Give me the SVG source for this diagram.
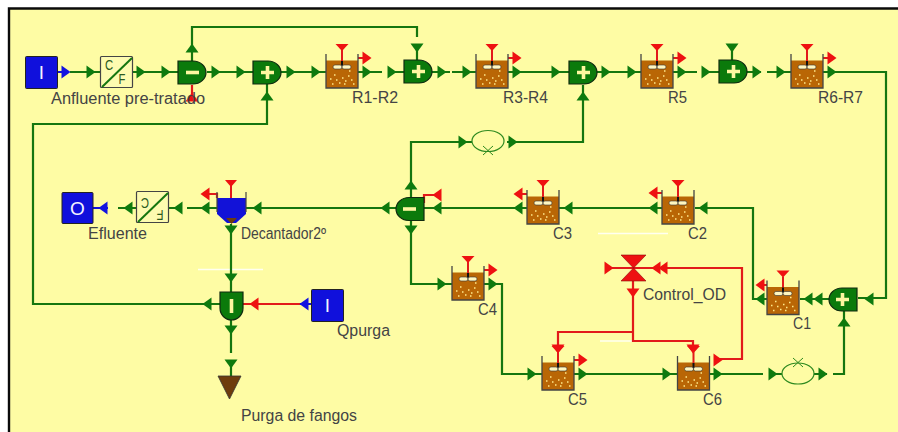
<svg xmlns="http://www.w3.org/2000/svg" width="898" height="432" viewBox="0 0 898 432">
<style>
.g{fill:none;stroke:#15760f;stroke-width:2.2}
.r{fill:none;stroke:#e21a1a;stroke-width:2.2}
.b{fill:none;stroke:#1212d8;stroke-width:2.2}
.tg{fill:#0e7a0e}.tr{fill:#ee1111}.tb{fill:#1212e0}
text{font-family:"Liberation Sans",Arial,sans-serif;font-size:16px;fill:#444}
.blk{fill:#1010dc;stroke:#222;stroke-width:1}
.box{fill:#fdfbb0;stroke:#444;stroke-width:1.2}
.wt{fill:#f4f4ff;font-size:19px;text-anchor:middle}
.cf{font-size:15px;fill:#2a5a20;text-anchor:middle}
.gate{fill:#0b7a0b;stroke:#102a10;stroke-width:1.2}
</style>
<defs>
<polygon id="ag" class="tg" points="-4.500,-6.500 4.500,0 -4.500,6.500"/>
<polygon id="ar" class="tr" points="-4.500,-6.500 4.500,0 -4.500,6.500"/>
<polygon id="ab" class="tb" points="-4.500,-6.500 4.500,0 -4.500,6.500"/>
<g id="reactor">
<rect x="0" y="6.500" width="32" height="27.500" fill="#b96605"/>
<path d="M0,0V34H32V0" fill="none" stroke="#444" stroke-width="1.300"/>
<path d="M16,-4V7" stroke="#e21a1a" stroke-width="2"/>
<path d="M16,7V14" stroke="#111" stroke-width="2"/>
<polygon class="tr" points="9.500,-10 22.500,-10 16,-3"/>
<rect x="7" y="11" width="9" height="4" rx="2" fill="#fff6c0" stroke="#333" stroke-width=".6"/>
<rect x="16" y="11" width="9" height="4" rx="2" fill="#fff6c0" stroke="#333" stroke-width=".6"/>
<path d="M4,25h1.500M8,21h1.500M10,26h1.500M13,29h1.500M16,24h1.500M19,27h1.500M22,22h1.500M25,26h1.500M27,30h1.500M6,30h1.500M18,30h1.500M23,17h1.500" stroke="#ffe98a" stroke-width="1.300"/>
</g>
<g id="mix">
<path class="gate" d="M-14,-11.500H1A13,11.500 0 0 1 1,11.500H-14Z"/>
<path d="M-6,0H7M.5,-6.500V6.500" stroke="#fdf7a0" stroke-width="3.600"/>
</g>
<g id="split">
<path class="gate" d="M-14,-11.500H1A13,11.500 0 0 1 1,11.500H-14Z"/>
<path d="M-6,0H7" stroke="#fdf7a0" stroke-width="3.600"/>
</g>
<ellipse id="ell" cx="0" cy="0" rx="16" ry="10.500" fill="none" stroke="#2f8a20" stroke-width="1.200"/>
</defs>

<rect width="898" height="432" fill="#fff"/>
<rect x="9" y="8.500" width="889" height="424" fill="#fefca4"/>
<path d="M9,432V8.500H898" fill="none" stroke="#0a0a0a" stroke-width="2.400"/>
<path d="M198,269.500H263M598,233.500H668M600,341H690" stroke="#fffff0" stroke-width="1.300" fill="none"/>

<g id="connectors">
<path class="g" d="M70,72H100M133,72H178M207,72H253M281,72H326M358,72H382M388,72H404M432,72H450M452,72H476M508,72H569M597,72H641M673,72H697M703,72H719M747,72H761M767,72H791M823,72H886V298H858"/>
<path class="g" d="M192,61V27H417V37M417,48V60M732,48V60M267,84V124H33V304H220"/>
<path class="g" d="M583,85V142H507M472,142H411V198M411,220V284H452M484,284H502V374H542M574,374H677M710,374H763M775,374H782M814,374H827M833,374H844V311"/>
<path class="g" d="M829,299H800M767,299H753V208H695M662,208H559M527,208H424M396,208H246M217,208H187M176,208H168M137,208H118"/>
<path class="g" d="M231,224V292M231,320V353M231,360V376"/>
<path class="b" d="M58,72H66M93,208H108M300,304H311"/>
<path class="r" d="M243,304H300M192,85V97M358,58H365M508,58H515M673,58H680M823,58H830"/>
<path class="r" d="M424,203V195H437M217,198V194H205M527,194H518M662,193H653M767,285H760M484,270H493M574,360H583"/>
<path class="r" d="M612,268H653M656,268H742V359H718M633,281V332H558V347M633,332V341H693V347"/>
<g>
<use href="#ab" x="66" y="72"/>
<use href="#ag" x="91" y="72"/><use href="#ag" x="141" y="72"/><use href="#ag" x="166" y="72"/><use href="#ag" x="216" y="72"/><use href="#ag" x="241" y="72"/><use href="#ag" x="291" y="72"/><use href="#ag" x="316" y="72"/><use href="#ag" x="367" y="72"/><use href="#ag" x="392" y="72"/><use href="#ag" x="442" y="72"/><use href="#ag" x="467" y="72"/><use href="#ag" x="517" y="72"/><use href="#ag" x="556" y="72"/><use href="#ag" x="606" y="72"/><use href="#ag" x="632" y="72"/><use href="#ag" x="682" y="72"/><use href="#ag" x="706" y="72"/><use href="#ag" x="757" y="72"/><use href="#ag" x="781" y="72"/><use href="#ag" x="832" y="72"/>
<use href="#ar" x="367" y="58"/><use href="#ar" x="517" y="58"/><use href="#ar" x="682" y="58"/><use href="#ar" x="832" y="58"/>
<use href="#ag" transform="translate(192,48) rotate(-90)"/>
<use href="#ar" transform="translate(192,97) rotate(-90)"/>
<use href="#ag" transform="translate(267,96) rotate(-90)"/>
<use href="#ag" transform="translate(583,96) rotate(-90)"/>
<use href="#ag" transform="translate(417,48) rotate(90)"/>
<use href="#ag" transform="translate(732,48) rotate(90)"/>
<use href="#ag" x="463" y="142"/><use href="#ag" x="513" y="142"/>
<use href="#ag" transform="translate(411,185) rotate(-90)"/>
<use href="#ag" transform="translate(411,230) rotate(90)"/>
<use href="#ag" x="442" y="284"/><use href="#ag" x="493" y="284"/>
<use href="#ar" x="493" y="270"/>
<use href="#ag" x="532" y="374"/><use href="#ag" x="583" y="374"/><use href="#ar" x="583" y="360"/>
<use href="#ag" x="667" y="374"/><use href="#ag" x="718" y="374"/><use href="#ar" x="718" y="360"/>
<use href="#ag" x="773" y="374"/><use href="#ag" x="823" y="374"/>
<use href="#ag" transform="translate(844,322) rotate(-90)"/>
<use href="#ag" transform="translate(869,299) rotate(180)"/>
<use href="#ag" transform="translate(818,299) rotate(180)"/>
<use href="#ag" transform="translate(808,299) rotate(180)"/>
<use href="#ag" transform="translate(760,299) rotate(180)"/>
<use href="#ar" transform="translate(760,285) rotate(180)"/>
<use href="#ag" transform="translate(703,208) rotate(180)"/>
<use href="#ag" transform="translate(653,208) rotate(180)"/>
<use href="#ar" transform="translate(653,193) rotate(180)"/>
<use href="#ag" transform="translate(568,208) rotate(180)"/>
<use href="#ag" transform="translate(518,208) rotate(180)"/>
<use href="#ar" transform="translate(518,194) rotate(180)"/>
<use href="#ag" transform="translate(437,208) rotate(180)"/>
<use href="#ar" transform="translate(437,195) rotate(180)"/>
<use href="#ag" transform="translate(385,208) rotate(180)"/>
<use href="#ag" transform="translate(257,208) rotate(180)"/>
<use href="#ag" transform="translate(205,208) rotate(180)"/>
<use href="#ar" transform="translate(205,194) rotate(180)"/>
<use href="#ag" transform="translate(178,208) rotate(180)"/>
<use href="#ag" transform="translate(128,208) rotate(180)"/>
<use href="#ab" transform="translate(103,208) rotate(180)"/>
<use href="#ag" transform="translate(231,230) rotate(90)"/>
<use href="#ag" transform="translate(231,278) rotate(90)"/>
<use href="#ag" transform="translate(231,330) rotate(90)"/>
<use href="#ag" transform="translate(231,364) rotate(90)"/>
<use href="#ag" transform="translate(207,304) rotate(180)"/>
<use href="#ar" transform="translate(254,304) rotate(180)"/>
<use href="#ab" transform="translate(304,304) rotate(180)"/>
<use href="#ar" x="609" y="268"/>
<use href="#ar" transform="translate(656,268) rotate(180)"/>
<use href="#ar" transform="translate(663,268) rotate(180)"/>
<use href="#ar" transform="translate(633,293) rotate(90)"/>
<use href="#ar" transform="translate(558,349) rotate(90)"/>
<use href="#ar" transform="translate(693,349) rotate(90)"/>
</g>
</g>

<g id="influent"><rect class="blk" x="25.500" y="56.500" width="32" height="32" rx="1"/><text class="wt" x="41.500" y="79">I</text><text x="51" y="104" textLength="154" lengthAdjust="spacingAndGlyphs">Anfluente pre-tratado</text></g>
<g id="cf1"><rect class="box" x="100.500" y="56.500" width="32" height="31" rx="1"/><path d="M102,87L132,58" stroke="#15760f" stroke-width="2"/><text class="cf" transform="translate(109,70) scale(.75,1)">C</text><text class="cf" transform="translate(122,84) scale(.75,1)">F</text></g>
<g id="split1"><use href="#split" x="192" y="72.500"/></g>
<g id="mix1"><use href="#mix" x="267" y="72.500"/></g>
<g id="r1r2"><use href="#reactor" x="326" y="54"/><text x="352" y="103" textLength="46" lengthAdjust="spacingAndGlyphs">R1-R2</text></g>
<g id="mix2"><use href="#mix" x="418" y="71.500"/></g>
<g id="r3r4"><use href="#reactor" x="476" y="54"/><text x="503" y="103" textLength="45" lengthAdjust="spacingAndGlyphs">R3-R4</text></g>
<g id="mix3"><use href="#mix" x="583" y="72.500"/></g>
<g id="r5"><use href="#reactor" x="641" y="54"/><text x="668" y="103" textLength="19" lengthAdjust="spacingAndGlyphs">R5</text></g>
<g id="mix4"><use href="#mix" x="733" y="71.500"/></g>
<g id="r6r7"><use href="#reactor" x="791" y="54"/><text x="818" y="103" textLength="45" lengthAdjust="spacingAndGlyphs">R6-R7</text></g>
<g id="v1"><use href="#ell" x="488" y="141"/><path d="M483,146L493,155M493,146L483,155" stroke="#2f8a20" stroke-width="1"/></g>
<g id="c3"><use href="#reactor" x="527" y="190"/><text x="553" y="239" textLength="19" lengthAdjust="spacingAndGlyphs">C3</text></g>
<g id="c2"><use href="#reactor" x="662" y="190"/><text x="688" y="239" textLength="19" lengthAdjust="spacingAndGlyphs">C2</text></g>
<g id="c1"><use href="#reactor" x="767" y="280.500"/><text x="793" y="329" textLength="18" lengthAdjust="spacingAndGlyphs">C1</text></g>
<g id="mix5"><use href="#mix" transform="translate(843,299.500) scale(-1,1)"/></g>
<g id="split2"><use href="#split" transform="translate(410,209) scale(-1,1)"/></g>
<g id="c4"><use href="#reactor" x="452" y="266"/><text x="478" y="315" textLength="19" lengthAdjust="spacingAndGlyphs">C4</text></g>
<g id="c5"><use href="#reactor" x="542" y="356"/><text x="568" y="405" textLength="19" lengthAdjust="spacingAndGlyphs">C5</text></g>
<g id="c6"><use href="#reactor" x="677.500" y="356"/><text x="703" y="405" textLength="19" lengthAdjust="spacingAndGlyphs">C6</text></g>
<g id="v2"><use href="#ell" x="798" y="373.500"/><path d="M793,358L803,367M803,358L793,367" stroke="#2f8a20" stroke-width="1"/></g>
<g id="valve"><polygon class="tr" points="621,255 646,255 621,281 646,281" stroke="#8a0a0a" stroke-width=".6"/><text x="643" y="300" textLength="83" lengthAdjust="spacingAndGlyphs">Control_OD</text></g>
<g id="decantador"><path d="M217,198H246V214L236,223H227L217,214Z" fill="#1212d8"/><path d="M226,218H237L231.500,224Z" fill="#6e3c0c"/><path d="M217,192V212M246,192V212" stroke="#444" stroke-width="1.200"/><path d="M231,181V198" stroke="#e21a1a" stroke-width="2"/><polygon class="tr" points="225,180 237,180 231,187"/><text x="241" y="239" textLength="85" lengthAdjust="spacingAndGlyphs">Decantador2º</text></g>
<g id="cf2"><rect class="box" x="136.500" y="191.500" width="32" height="31" rx="1"/><path d="M138,222L168,193" stroke="#15760f" stroke-width="2"/><text class="cf" transform="translate(145,198) rotate(180) scale(.75,1)">C</text><text class="cf" transform="translate(160,210) rotate(180) scale(.75,1)">F</text></g>
<g id="effluent"><rect class="blk" x="62" y="192.500" width="31" height="31" rx="1"/><text class="wt" x="77.500" y="214.500">O</text><text x="88" y="239" textLength="59" lengthAdjust="spacingAndGlyphs">Efluente</text></g>
<g id="purge-split"><path class="gate" d="M220,292H243V308A11.500,12 0 0 1 220,308Z"/><path d="M231.500,299V313" stroke="#fdf7a0" stroke-width="3.600"/></g>
<g id="qpurga"><rect class="blk" x="311.500" y="289.500" width="32" height="32" rx="1"/><text class="wt" x="327.500" y="312">I</text><text x="337" y="336" textLength="53" lengthAdjust="spacingAndGlyphs">Qpurga</text></g>
<g id="purga"><polygon points="218,376 241,376 229.500,399" fill="#6e3c0c" stroke="#333" stroke-width=".8"/><text x="241" y="421" textLength="116" lengthAdjust="spacingAndGlyphs">Purga de fangos</text></g>
</svg>
